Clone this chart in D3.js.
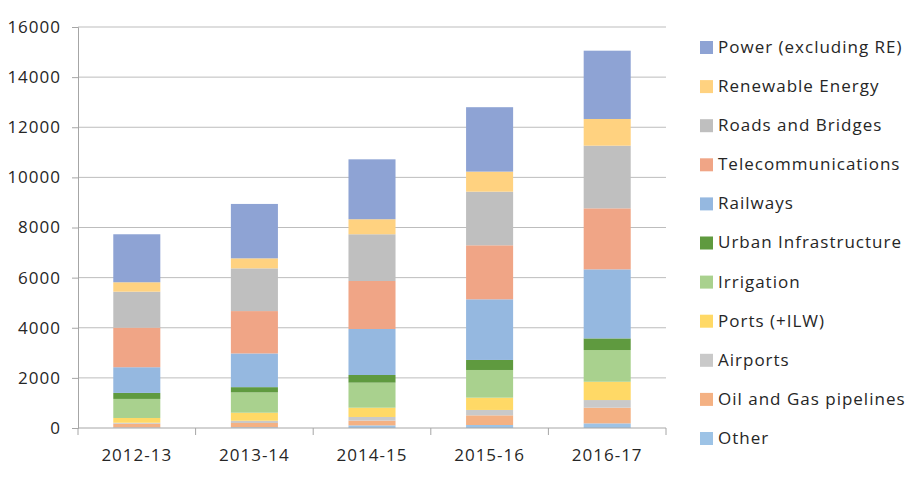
<!DOCTYPE html>
<html>
<head>
<meta charset="utf-8">
<script src="https://cdn.jsdelivr.net/npm/d3@7"></script>
<style>
  body { margin: 0; background: #fff; }
  svg text { font-family: "Open Sans", "Liberation Sans", sans-serif; fill: #262626; letter-spacing: 1px; }
</style>
</head>
<body>
<div class="chart"></div>
<script>
// categories and series (stacked bottom to top)
const years = ["2012-13", "2013-14", "2014-15", "2015-16", "2016-17"];
const sectors = ["Other", "Oil and Gas pipelines", "Airports", "Ports (+ILW)", "Irrigation",
    "Urban Infrastructure", "Railways", "Telecommunications", "Roads and Bridges",
    "Renewable Energy", "Power (excluding RE)"];
const colors = ["#9dc3e6", "#f4b183", "#c9c9c9", "#ffd966", "#a9d18e",
    "#5f9a3f", "#95b8e0", "#f0a586", "#bfbfbf", "#ffd280", "#8ea3d4"];

const other = [20, 30, 105, 120, 185];
const oilGas = [150, 170, 190, 385, 625];
const airports = [40, 90, 145, 215, 305];
const ports = [190, 320, 370, 490, 730];
const irrigation = [760, 810, 1000, 1105, 1265];
const urban = [240, 210, 305, 400, 465];
const railways = [1025, 1345, 1835, 2420, 2755];
const telecom = [1580, 1690, 1915, 2155, 2435];
const roads = [1435, 1705, 1865, 2140, 2500];
const renewable = [375, 400, 600, 800, 1065];
const power = [1915, 2170, 2390, 2570, 2725];

const yTicks = [0, 2000, 4000, 6000, 8000, 10000, 12000, 14000, 16000];

const series = [other, oilGas, airports, ports, irrigation, urban, railways, telecom, roads, renewable, power];
const table = years.map((y, i) => {
    const row = { year: y };
    sectors.forEach((s, j) => { row[s] = series[j][i]; });
    return row;
});

const width = 915, height = 478;
const margin = { top: 27, right: 249, bottom: 50, left: 78 };

const svg = d3.select(".chart").append("svg")
    .attr("width", width)
    .attr("height", height);

const x = d3.scaleBand()
    .domain(years)
    .range([margin.left, width - margin.right])
    .paddingInner(0.6)
    .paddingOuter(0.3);

const y = d3.scaleLinear()
    .domain([0, 16000])
    .range([height - margin.bottom, margin.top]);

// gridlines
svg.append("g")
    .selectAll("line")
    .data(yTicks.slice(1))
    .join("line")
    .attr("x1", margin.left)
    .attr("x2", width - margin.right)
    .attr("y1", d => y(d))
    .attr("y2", d => y(d))
    .attr("stroke", "#bdbdbd")
    .attr("stroke-width", 1);

// y axis
const yAxis = svg.append("g")
    .attr("transform", `translate(${margin.left},0)`)
    .call(d3.axisLeft(y).tickValues(yTicks).tickSize(6).tickPadding(11).tickFormat(d3.format("d")));
yAxis.select(".domain").attr("stroke", "#a6a6a6");
yAxis.selectAll(".tick line").attr("stroke", "#a6a6a6");
yAxis.selectAll("text").attr("font-size", 17).attr("fill", "#262626");

// stacked bars
const stack = d3.stack().keys(sectors)(table);
svg.append("g")
    .selectAll("g")
    .data(stack)
    .join("g")
    .attr("fill", (d, i) => colors[i])
    .selectAll("rect")
    .data(d => d)
    .join("rect")
    .attr("x", d => x(d.data.year))
    .attr("width", x.bandwidth())
    .attr("y", d => y(d[1]))
    .attr("height", d => y(d[0]) - y(d[1]));

// x axis with ticks between categories
const xAxisG = svg.append("g").attr("transform", `translate(0,${y(0)})`);
xAxisG.append("line")
    .attr("x1", margin.left)
    .attr("x2", width - margin.right)
    .attr("stroke", "#a6a6a6");
const step = x.step();
xAxisG.selectAll(".sep")
    .data(d3.range(years.length + 1))
    .join("line")
    .attr("class", "sep")
    .attr("x1", i => margin.left + i * step)
    .attr("x2", i => margin.left + i * step)
    .attr("y1", 0)
    .attr("y2", 7)
    .attr("stroke", "#a6a6a6");
xAxisG.selectAll("text")
    .data(years)
    .join("text")
    .attr("x", d => x(d) + x.bandwidth() / 2)
    .attr("y", 33)
    .attr("text-anchor", "middle")
    .attr("font-size", 17)
    .text(d => d);

// legend, top to bottom in reverse stacking order
const legendItems = sectors.map((s, i) => ({ name: s, color: colors[i] })).reverse();
const legend = svg.append("g").attr("transform", "translate(700,47)");
const item = legend.selectAll("g")
    .data(legendItems)
    .join("g")
    .attr("transform", (d, i) => `translate(0,${i * 39.1})`);
item.append("rect")
    .attr("x", 0)
    .attr("y", -6)
    .attr("width", 13)
    .attr("height", 13)
    .attr("fill", d => d.color);
item.append("text")
    .attr("x", 18)
    .attr("y", 0)
    .attr("dy", "0.35em")
    .attr("font-size", 17)
    .text(d => d.name);
</script>
</body>
</html>
